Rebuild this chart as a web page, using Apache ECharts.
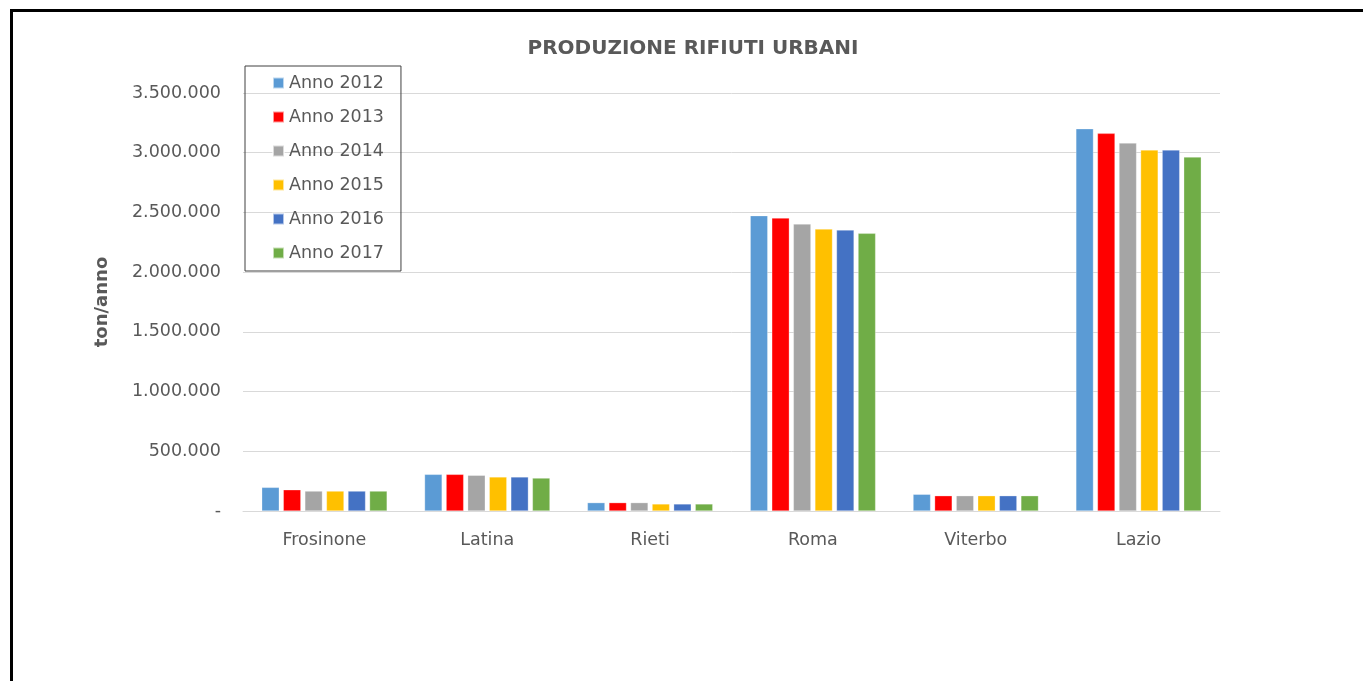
<!DOCTYPE html>
<html>
<head>
<meta charset="utf-8">
<script src="https://cdn.jsdelivr.net/npm/echarts@6/dist/echarts.min.js"></script>
<style>
html,body{margin:0;padding:0;background:#fff;}
#c{width:1363px;height:681px;}
</style>
</head>
<body>
<div id="c"></div>
<script>
var categories = ['Frosinone', 'Latina', 'Rieti', 'Roma', 'Viterbo', 'Lazio'];
var seriesNames = ['Anno 2012', 'Anno 2013', 'Anno 2014', 'Anno 2015', 'Anno 2016', 'Anno 2017'];
var anno2012 = [198000, 307000, 70000, 2473000, 140000, 3201000];
var anno2013 = [178000, 307000, 70000, 2453000, 128000, 3162000];
var anno2014 = [167000, 299000, 70000, 2403000, 128000, 3081000];
var anno2015 = [167000, 285000, 59000, 2361000, 128000, 3023000];
var anno2016 = [167000, 285000, 59000, 2353000, 128000, 3023000];
var anno2017 = [167000, 276000, 59000, 2325000, 128000, 2964000];
var seriesValues = [anno2012, anno2013, anno2014, anno2015, anno2016, anno2017];
var colors = ['#5B9BD5', '#FF0000', '#A5A5A5', '#FFC000', '#4472C4', '#70AD47'];

function fmt(v) {
  if (v === 0) return '-';
  return String(v).replace(/\B(?=(\d{3})+(?!\d))/g, '.');
}

var chart = echarts.init(document.getElementById('c'));
var font = 'DejaVu Sans, sans-serif';
chart.setOption({
  animation: false,
  backgroundColor: '#fff',
  color: colors,
  title: {
    text: 'PRODUZIONE RIFIUTI URBANI',
    left: 688, top: 34, textAlign: 'center',
    textStyle: { color: '#595959', fontSize: 20, fontWeight: 'bold', fontFamily: font }
  },
  legend: {
    orient: 'vertical',
    left: 245, top: 66,
    padding: [7, 17, 8, 27],
    itemWidth: 11, itemHeight: 11, itemGap: 14,
    borderColor: '#404040', borderWidth: 1,
    icon: 'rect',
    textStyle: { color: '#595959', fontSize: 17.5, lineHeight: 20, fontFamily: font },
    data: seriesNames
  },
  grid: { left: 243, right: 143, top: 93, bottom: 170, containLabel: false },
  xAxis: {
    type: 'category',
    data: categories,
    axisLine: { lineStyle: { color: '#D9D9D9' } },
    axisTick: { show: false },
    axisLabel: { color: '#595959', fontSize: 17.5, fontFamily: font, margin: 20 }
  },
  yAxis: {
    type: 'value',
    min: 0, max: 3500000, interval: 500000,
    name: 'ton/anno',
    nameLocation: 'middle',
    nameGap: 132,
    nameTextStyle: { color: '#595959', fontSize: 18, fontWeight: 'bold', fontFamily: font },
    axisLine: { show: false },
    axisTick: { show: false },
    splitLine: { lineStyle: { color: '#D9D9D9' } },
    axisLabel: { color: '#595959', fontSize: 17.5, fontFamily: font, margin: 22, formatter: fmt }
  },
  series: seriesNames.map(function (n, i) {
    return {
      name: n, type: 'bar', data: seriesValues[i],
      barGap: '23%', barCategoryGap: '23%',
      itemStyle: { color: colors[i], borderColor: 'rgba(255,255,255,0.6)', borderWidth: 0.5 }
    };
  }),
  graphic: [
    { type: 'line', shape: { x1: 10, y1: 10.5, x2: 1363, y2: 10.5 }, style: { stroke: '#000', lineWidth: 3 } },
    { type: 'line', shape: { x1: 11.5, y1: 9, x2: 11.5, y2: 681 }, style: { stroke: '#000', lineWidth: 3 } }
  ]
});
</script>
</body>
</html>
